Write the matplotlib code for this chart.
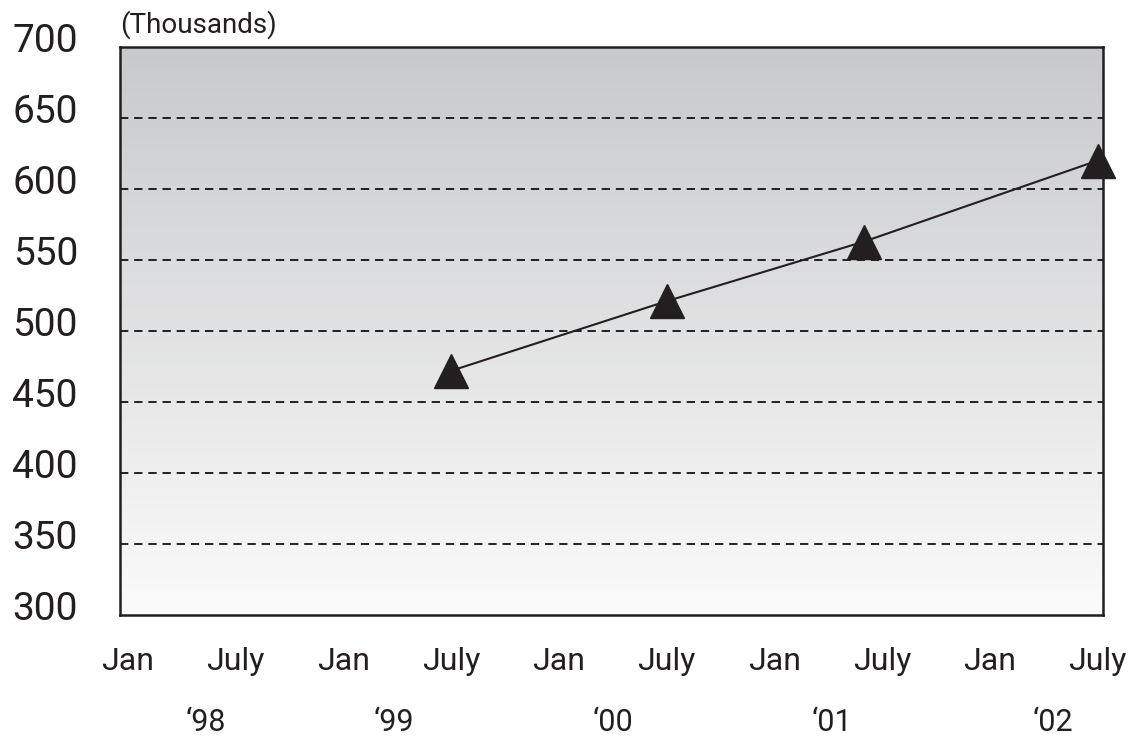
import matplotlib
matplotlib.use("Agg")
import matplotlib.pyplot as plt
import matplotlib.transforms as mtransforms
import numpy as np

# data (months counted from Jan '98)
months = [18, 30, 41, 54]
values = [472, 521, 563, 620]

month_ticks = [0, 6, 12, 18, 24, 30, 36, 42, 48, 54]
month_labels = ["Jan", "July", "Jan", "July", "Jan", "July", "Jan", "July", "Jan", "July"]
year_pos = [4.3, 14.8, 27.0, 39.2, 51.5]
year_labels = ["\u201898", "\u201899", "\u201800", "\u201801", "\u201802"]
y_ticks = [300, 350, 400, 450, 500, 550, 600, 650, 700]

plt.rcParams['font.family'] = ['Roboto', 'DejaVu Sans']

fig = plt.figure(figsize=(11.33, 7.40), dpi=100)
ax = fig.add_axes([0.1059, 0.1689, 0.8676, 0.7676])

ax.set_xlim(-0.45, 54.3)
ax.set_ylim(300, 700)

# gradient background, dark on top
grad = np.linspace(0, 1, 256).reshape(-1, 1)
top = np.array([0.784, 0.788, 0.796])
bot = np.array([0.985, 0.985, 0.985])
img = (top + (bot - top) * grad).reshape(256, 1, 3)
ax.imshow(img, extent=[-0.45, 54.3, 300, 700], aspect='auto', origin='upper', zorder=0)

for yv in y_ticks[1:-1]:
    ax.axhline(yv, color='black', lw=1.2, ls=(0, (5, 3.5)), zorder=1)

ax.plot(months, values, color='#231f20', lw=1.5, marker='^', markersize=24,
        markerfacecolor='#231f20', markeredgecolor='#231f20', clip_on=False, zorder=3)

for s in ax.spines.values():
    s.set_linewidth(1.8)
    s.set_color('#231f20')

ax.set_xticks([])
ax.set_yticks([])

# y labels sit a little below their gridline
ylab_trans = mtransforms.offset_copy(ax.get_yaxis_transform(), fig=fig, x=-42, y=-5, units='dots')
for v in y_ticks:
    ax.text(0, v, str(v), transform=ylab_trans, ha='right', va='baseline',
            fontsize=28, color='#231f20')

trans = ax.get_xaxis_transform()
for m, lab in zip(month_ticks, month_labels):
    ax.text(m, -0.0968, lab, transform=trans, ha='center', va='baseline',
            fontsize=23, color='#231f20')
for p, lab in zip(year_pos, year_labels):
    ax.text(p, -0.204, lab, transform=trans, ha='center', va='baseline',
            fontsize=22, color='#231f20')

ax.text(0, 1.026, "(Thousands)", transform=ax.transAxes, ha='left', va='baseline',
        fontsize=20, color='#231f20')

fig.savefig("out.png", dpi=100)
